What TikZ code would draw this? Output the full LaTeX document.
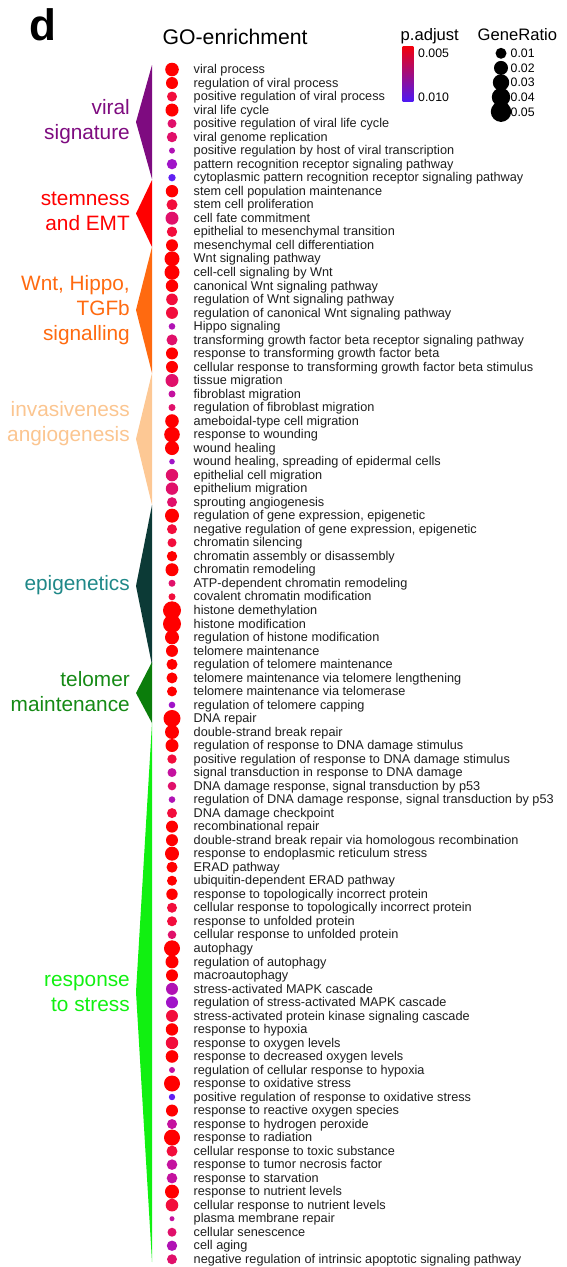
\documentclass[tikz,border=0pt]{standalone}
\usepackage{fontspec}
\setmainfont{Liberation Sans}
\usetikzlibrary{positioning}

% p.adjust colours
\definecolor{cRed}{HTML}{FF0000}
\definecolor{cRose}{HTML}{F20D3C}
\definecolor{cCrim}{HTML}{E0106A}
\definecolor{cMag}{HTML}{C4129F}
\definecolor{cMP}{HTML}{B012B4}
\definecolor{cPurp}{HTML}{A014C8}
\definecolor{cViol}{HTML}{6020F2}
\definecolor{termgray}{HTML}{1E1E1E}
% group colours
\definecolor{viralC}{HTML}{7E0B80}
\definecolor{stemC}{HTML}{FF0000}
\definecolor{wntC}{HTML}{FF6A10}
\definecolor{invC}{HTML}{FDC894}
\definecolor{invT}{HTML}{FBC590}
\definecolor{epiC}{HTML}{0C3A36}
\definecolor{epiT}{HTML}{1F8888}
\definecolor{teloC}{HTML}{0B7D0B}
\definecolor{teloT}{HTML}{158A15}
\definecolor{stressC}{HTML}{11F011}

\begin{document}
\begin{tikzpicture}[x=1pt,y=-1pt,
    dot/.style={circle, inner sep=0pt, draw=none},
    term/.style={anchor=base west, inner sep=0pt, text=termgray,
      font=\fontsize{12.7}{14}\selectfont},
    grp/.style={anchor=base east, inner sep=0pt, align=right,
      font=\fontsize{20.8}{25}\selectfont},
    legtitle/.style={anchor=base west, inner sep=0pt, font=\fontsize{16.6}{18}\selectfont},
    legval/.style={anchor=base west, inner sep=0pt, font=\fontsize{12.3}{13}\selectfont}]
    \useasboundingbox (0,0) rectangle (566,1267);

    \node[anchor=base west, inner sep=0pt, font=\fontsize{44}{44}\bfseries\selectfont] (panel) at (29,40) {d};
    \node[anchor=base west, inner sep=0pt, font=\fontsize{21.2}{24}\selectfont] (title) at (162.5,44) {GO-enrichment};

    % wedges
    \fill[viralC] (152,65) -- (136,122) -- (152,179) -- cycle;
    \fill[stemC] (152,180) -- (136,213.5) -- (152,247) -- cycle;
    \fill[wntC] (152,247) -- (136,310) -- (152,373) -- cycle;
    \fill[invC] (152,373) -- (136,439) -- (152,505) -- cycle;
    \fill[epiC] (152,505) -- (136,586) -- (152,665) -- cycle;
    \fill[teloC] (152,662) -- (136,693) -- (152,723) -- cycle;
    \fill[stressC] (152,723) -- (136,992) -- (152,1262) -- cycle;

    % group labels (placed at the baseline of the last line)
    \node[grp, text=viralC] (viral) at (130,139) {viral\\signature};
    \node[grp, text=stemC] (stem) at (130,230) {stemness\\and EMT};
    \node[grp, text=wntC] (wnt) at (130,340) {Wnt, Hippo,\\TGFb\\signalling};
    \node[grp, text=invT] (inv) at (130,441.7) {invasiveness\\angiogenesis};
    \node[grp, text=epiT] (epi) at (130,590.7) {epigenetics};
    \node[grp, text=teloT] (telo) at (130,711.7) {telomer\\maintenance};
    \node[grp, text=stressC] (stress) at (130,1011.7) {response\\to stress};

    % GO terms
    \foreach \r/\c/\txt [count=\i] in {
        6.8/cRed/viral process,
        6.0/cRed/regulation of viral process,
        5.0/cRose/positive regulation of viral process,
        6.5/cRed/viral life cycle,
        4.5/cCrim/positive regulation of viral life cycle,
        5.2/cCrim/viral genome replication,
        3.0/cMP/positive regulation by host of viral transcription,
        5.2/cPurp/pattern recognition receptor signaling pathway,
        3.7/cViol/cytoplasmic pattern recognition receptor signaling pathway,
        6.2/cRed/stem cell population maintenance,
        5.5/cRose/stem cell proliferation,
        6.5/cCrim/cell fate commitment,
        5.2/cRose/epithelial to mesenchymal transition,
        6.0/cRed/mesenchymal cell differentiation,
        7.5/cRed/Wnt signaling pathway,
        7.5/cRed/cell-cell signaling by Wnt,
        6.2/cRed/canonical Wnt signaling pathway,
        5.8/cRose/regulation of Wnt signaling pathway,
        6.0/cRose/regulation of canonical Wnt signaling pathway,
        3.3/cMP/Hippo signaling,
        5.5/cCrim/transforming growth factor beta receptor signaling pathway,
        6.0/cRed/response to transforming growth factor beta,
        6.0/cRed/cellular response to transforming growth factor beta stimulus,
        6.5/cCrim/tissue migration,
        3.5/cMag/fibroblast migration,
        3.5/cCrim/regulation of fibroblast migration,
        6.8/cRed/ameboidal-type cell migration,
        7.8/cRed/response to wounding,
        7.0/cRed/wound healing,
        2.8/cPurp/{wound healing, spreading of epidermal cells},
        6.2/cCrim/epithelial cell migration,
        6.2/cCrim/epithelium migration,
        5.0/cCrim/sprouting angiogenesis,
        7.0/cRed/{regulation of gene expression, epigenetic},
        5.0/cRose/{negative regulation of gene expression, epigenetic},
        4.5/cRose/chromatin silencing,
        5.2/cRed/chromatin assembly or disassembly,
        6.5/cRed/chromatin remodeling,
        3.5/cCrim/ATP-dependent chromatin remodeling,
        3.5/cRose/covalent chromatin modification,
        9.0/cRed/histone demethylation,
        9.0/cRed/histone modification,
        7.0/cRed/regulation of histone modification,
        6.0/cRed/telomere maintenance,
        5.5/cRed/regulation of telomere maintenance,
        5.5/cRed/telomere maintenance via telomere lengthening,
        5.0/cRed/telomere maintenance via telomerase,
        3.3/cPurp/regulation of telomere capping,
        8.5/cRed/DNA repair,
        7.0/cRed/double-strand break repair,
        6.5/cRed/regulation of response to DNA damage stimulus,
        4.7/cRose/positive regulation of response to DNA damage stimulus,
        4.5/cMag/signal transduction in response to DNA damage,
        4.3/cCrim/{DNA damage response, signal transduction by p53},
        3.3/cMP/{regulation of DNA damage response, signal transduction by p53},
        5.0/cRose/DNA damage checkpoint,
        6.0/cRed/recombinational repair,
        6.0/cRed/double-strand break repair via homologous recombination,
        7.0/cRed/response to endoplasmic reticulum stress,
        5.5/cRed/ERAD pathway,
        5.0/cRed/ubiquitin-dependent ERAD pathway,
        5.7/cRed/response to topologically incorrect protein,
        5.0/cRose/cellular response to topologically incorrect protein,
        5.0/cRose/response to unfolded protein,
        4.3/cCrim/cellular response to unfolded protein,
        8.0/cRed/autophagy,
        6.5/cRed/regulation of autophagy,
        6.0/cRed/macroautophagy,
        6.0/cMP/stress-activated MAPK cascade,
        6.0/cPurp/regulation of stress-activated MAPK cascade,
        6.0/cRose/stress-activated protein kinase signaling cascade,
        6.2/cRed/response to hypoxia,
        6.2/cRose/response to oxygen levels,
        6.3/cRed/response to decreased oxygen levels,
        3.0/cMag/regulation of cellular response to hypoxia,
        8.0/cRed/response to oxidative stress,
        3.2/cViol/positive regulation of response to oxidative stress,
        6.0/cRed/response to reactive oxygen species,
        5.0/cMag/response to hydrogen peroxide,
        8.0/cRed/response to radiation,
        5.5/cRose/cellular response to toxic substance,
        5.3/cMag/response to tumor necrosis factor,
        5.3/cMag/response to starvation,
        7.0/cRed/response to nutrient levels,
        6.3/cRose/cellular response to nutrient levels,
        2.5/cMag/plasma membrane repair,
        4.5/cCrim/cellular senescence,
        5.2/cMP/cell aging,
        5.0/cCrim/negative regulation of intrinsic apoptotic signaling pathway}
    {
        \node[dot, fill=\c, minimum size=2*\r pt] (d\i) at (172,{69.5+(\i-1)*13.52}) {};
        \node[term] (t\i) at (193.5,{73.7+(\i-1)*13.52}) {\txt};
    }

    % p.adjust legend
    \node[legtitle] (padj) at (400.5,40.5) {p.adjust};
    \shade[top color=red!95!blue, middle color=cMP, bottom color=cViol!80!blue]
        (402.7,46.7) rectangle (413.3,101.7);
    \node[legval] (p1) at (418,57.2) {0.005};
    \node[legval] (p2) at (418,101.7) {0.010};

    % GeneRatio legend
    \node[legtitle] (gr) at (477.5,40.5) {GeneRatio};
    \foreach \r/\v [count=\k] in {5.5/0.01, 7.0/0.02, 8.2/0.03, 9.2/0.04, 10.2/0.05}
    {
        \node[dot, fill=black, minimum size=2*\r pt] (g\k) at (501,{53.3+(\k-1)*14.6}) {};
        \node[legval] (gv\k) at (510.5,{57.7+(\k-1)*14.6}) {\v};
    }

\end{tikzpicture}
\end{document}
